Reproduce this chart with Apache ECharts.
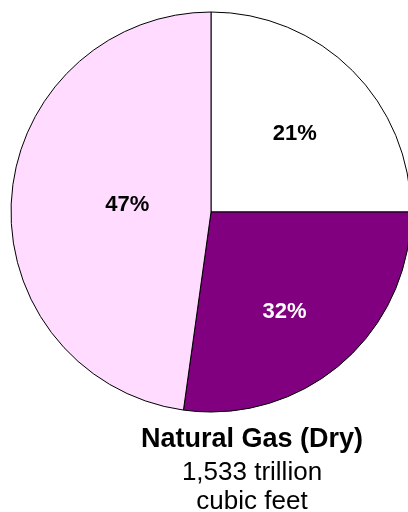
<!DOCTYPE html>
<html>
<head>
<meta charset="utf-8">
<style>
  html, body { margin: 0; padding: 0; background: #fff; }
  #chart { width: 408px; height: 512px; }
</style>
<script src="https://cdn.jsdelivr.net/npm/echarts@6/dist/echarts.min.js"></script>
</head>
<body>
<div id="chart"></div>
<script>
  // slices clockwise from 12 o'clock; shares are read off the drawn angles,
  // the printed labels are what the picture says
  var sliceNames = ["Slice A", "Slice B", "Slice C"];
  var sliceShares = [25, 27.2, 47.8];
  var sliceLabels = ["21%", "32%", "47%"];
  var sliceColors = ["#ffffff", "#800080", "#ffdcff"];
  var labelColors = ["#000000", "#ffffff", "#000000"];

  var titleText = "Natural Gas (Dry)";
  var subText = "1,533 trillion\ncubic feet";

  // small nudges from the default inside label spot
  var labelNudge = [[11, -5], [6, 22], [19, 0]];

  var chart = echarts.init(document.getElementById("chart"));

  var data = sliceShares.map(function (v, i) {
    return {
      name: sliceNames[i],
      value: v,
      itemStyle: { color: sliceColors[i] },
      label: { color: labelColors[i] }
    };
  });

  chart.setOption({
    animation: false,
    title: {
      text: titleText,
      subtext: subText,
      left: 247,
      top: 421,
      textAlign: "center",
      itemGap: 5,
      textStyle: {
        fontFamily: "Liberation Sans",
        fontSize: 27,
        fontWeight: "bold",
        color: "#000"
      },
      subtextStyle: {
        fontFamily: "Liberation Sans",
        fontSize: 26,
        lineHeight: 29,
        color: "#000"
      }
    },
    series: [
      {
        type: "pie",
        center: [211, 212],
        radius: 200,
        startAngle: 90,
        clockwise: true,
        avoidLabelOverlap: false,
        silent: true,
        itemStyle: {
          borderColor: "#000",
          borderWidth: 1
        },
        label: {
          show: true,
          position: "inside",
          fontFamily: "Liberation Sans",
          fontSize: 22,
          fontWeight: "bold",
          formatter: function (p) {
            return sliceLabels[p.dataIndex];
          }
        },
        labelLine: { show: false },
        labelLayout: function (p) {
          return { dx: labelNudge[p.dataIndex][0], dy: labelNudge[p.dataIndex][1] };
        },
        data: data
      }
    ]
  });
</script>
</body>
</html>
